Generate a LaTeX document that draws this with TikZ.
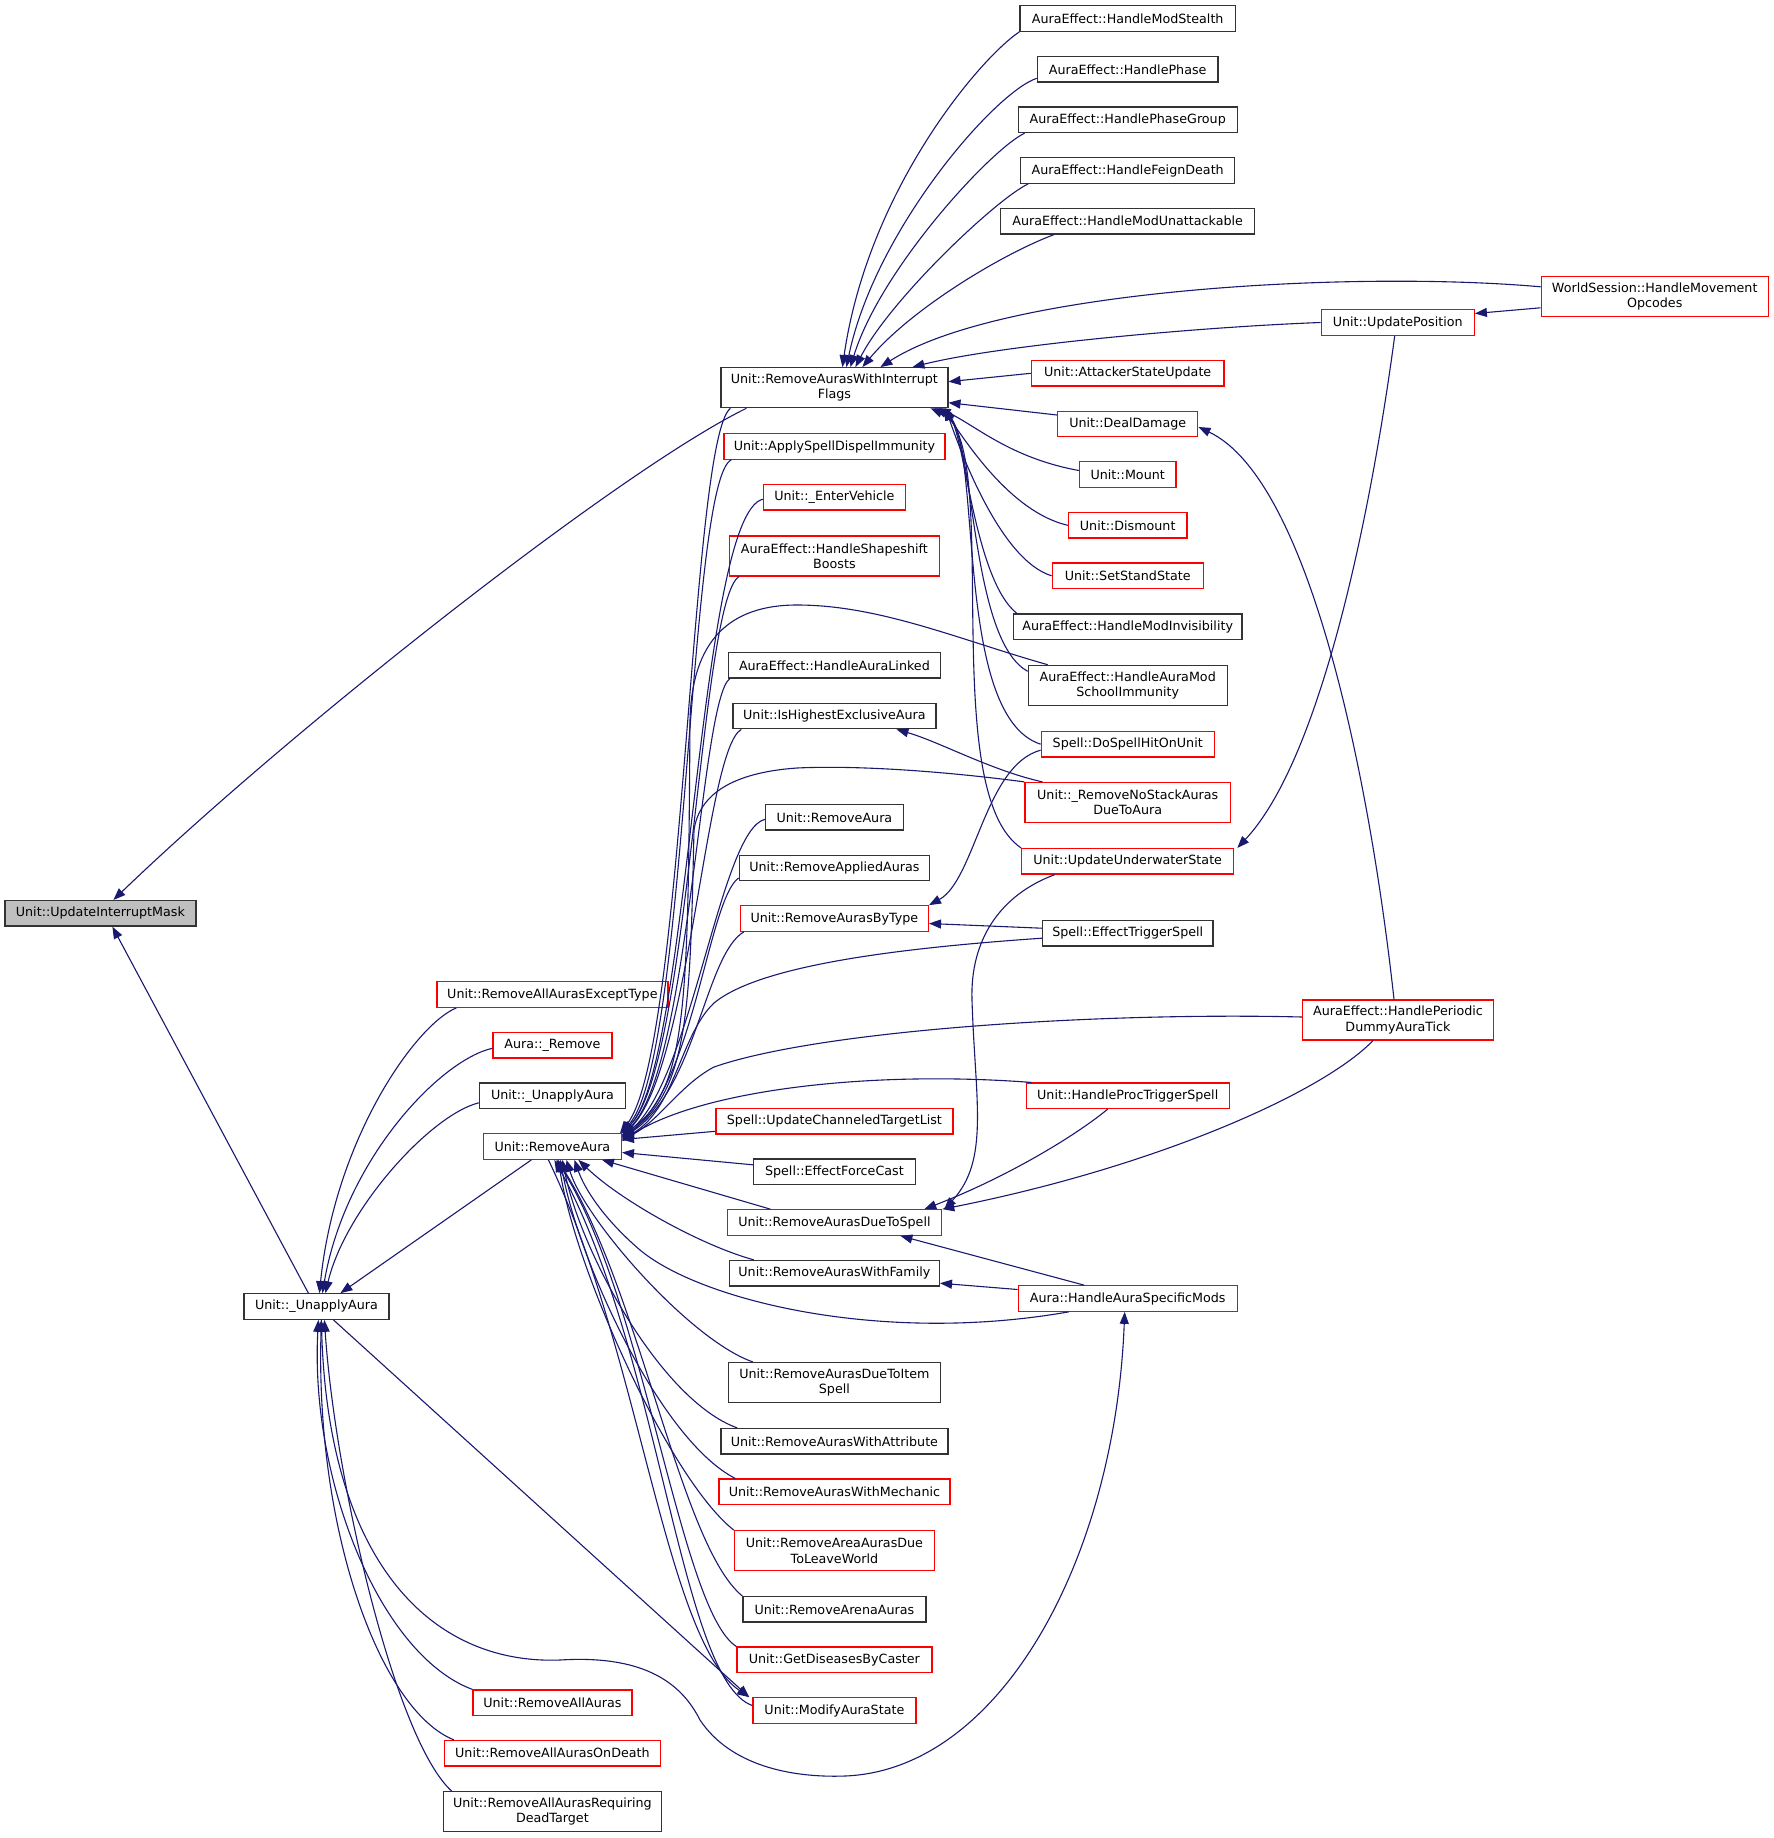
\documentclass[tikz,border=0pt]{standalone}
\usepackage{fontspec}
\setmainfont{DejaVu Sans}
\usepackage{xcolor}
\usepackage{tikz}
\usetikzlibrary{arrows.meta}
\definecolor{edgeblue}{HTML}{191970}
\definecolor{rootgray}{HTML}{BFBFBF}
\newcommand{\fnfont}{\fontsize{12.7}{15.3}\selectfont}
\tikzset{
    fnbox/.style={rectangle, draw=black!80, line width=1.2pt, fill=white, align=center, inner xsep=6pt, inner ysep=3pt, minimum height=25.5pt, font=\fnfont},
    truncbox/.style={fnbox, draw=red},
    rootbox/.style={fnbox, fill=rootgray},
    twoline/.style={minimum height=40pt},
    call/.style={draw=edgeblue, line width=1.1pt, ->, >={Triangle[length=12pt,width=9pt]}}
}

\begin{document}
\begin{tikzpicture}[x=1pt, y=-1pt]

    \fill[white] (0,0) rectangle (1773,1838);
    \useasboundingbox (0,0) rectangle (1773,1838);

    \node (root)       [rootbox, minimum width=191pt] at (100.4,913.3) {Unit::UpdateInterruptMask};
    \node (unapplyB)   [fnbox, minimum width=145pt] at (316.4,1306.5) {Unit::\_UnapplyAura};

    \node (allExcept)  [truncbox, minimum width=231pt] at (552.4,994.5) {Unit::RemoveAllAurasExceptType};
    \node (auraRemove) [truncbox, minimum width=119pt] at (552.4,1045.3) {Aura::\_Remove};
    \node (unapplyA)   [fnbox, minimum width=146pt] at (552.4,1095.8) {Unit::\_UnapplyAura};
    \node (removeAura) [truncbox, minimum width=138pt] at (552.4,1146.5) {Unit::RemoveAura};
    \node (allAuras)   [truncbox, minimum width=159pt] at (552.4,1702.7) {Unit::RemoveAllAuras};
    \node (allDeath)   [truncbox, minimum width=216pt] at (552.4,1753.2) {Unit::RemoveAllAurasOnDeath};
    \node (allDead)    [fnbox, twoline, minimum width=218pt] at (552.4,1811.8) {Unit::RemoveAllAurasRequiring\\DeadTarget};

    \node (rawif)      [fnbox, twoline, minimum width=227pt] at (834.4,387.7) {Unit::RemoveAurasWithInterrupt\\Flags};
    \node (dispel)     [truncbox, minimum width=221pt] at (834.4,446.5) {Unit::ApplySpellDispelImmunity};
    \node (vehicle)    [truncbox, minimum width=142pt] at (834.4,497.2) {Unit::\_EnterVehicle};
    \node (shapeshift) [truncbox, twoline, minimum width=209.5pt] at (834.4,556) {AuraEffect::HandleShapeshift\\Boosts};
    \node (auraLinked) [fnbox, minimum width=212pt] at (834.4,665.3) {AuraEffect::HandleAuraLinked};
    \node (highest)    [fnbox, minimum width=203pt] at (834.4,716) {Unit::IsHighestExclusiveAura};
    \node (removeAuraB)[fnbox, minimum width=137.6pt] at (834.4,817.3) {Unit::RemoveAura};
    \node (applied)    [fnbox, minimum width=190.5pt] at (834.4,868) {Unit::RemoveAppliedAuras};
    \node (byType)     [truncbox, minimum width=188pt] at (834.4,918.5) {Unit::RemoveAurasByType};
    \node (chanList)   [truncbox, minimum width=237pt] at (834.4,1121.3) {Spell::UpdateChanneledTargetList};
    \node (forceCast)  [fnbox, minimum width=162pt] at (834.4,1171.8) {Spell::EffectForceCast};
    \node (dueSpell)   [truncbox, minimum width=214.6pt] at (834.4,1222.5) {Unit::RemoveAurasDueToSpell};
    \node (family)     [fnbox, minimum width=210pt] at (834.4,1273.2) {Unit::RemoveAurasWithFamily};
    \node (dueItem)    [fnbox, twoline, minimum width=212pt] at (834.4,1382.5) {Unit::RemoveAurasDueToItem\\Spell};
    \node (attribute)  [fnbox, minimum width=227pt] at (834.4,1441.3) {Unit::RemoveAurasWithAttribute};
    \node (mechanic)   [truncbox, minimum width=231pt] at (834.4,1491.8) {Unit::RemoveAurasWithMechanic};
    \node (areaAuras)  [truncbox, twoline, minimum width=200pt] at (834.4,1550.7) {Unit::RemoveAreaAurasDue\\ToLeaveWorld};
    \node (arena)      [fnbox, minimum width=183pt] at (834.4,1609.3) {Unit::RemoveArenaAuras};
    \node (diseases)   [truncbox, minimum width=195pt] at (834.4,1659.8) {Unit::GetDiseasesByCaster};
    \node (modState)   [truncbox, minimum width=163pt] at (834.4,1710.5) {Unit::ModifyAuraState};

    \node (stealth)    [fnbox, minimum width=215.4pt] at (1127.7,18.5) {AuraEffect::HandleModStealth};
    \node (phase)      [fnbox, minimum width=180.7pt] at (1127.7,69.3) {AuraEffect::HandlePhase};
    \node (phaseGroup) [fnbox, minimum width=219pt] at (1127.7,119.8) {AuraEffect::HandlePhaseGroup};
    \node (feign)      [fnbox, minimum width=213.8pt] at (1127.7,170.5) {AuraEffect::HandleFeignDeath};
    \node (unattack)   [fnbox, minimum width=254pt] at (1127.7,221.2) {AuraEffect::HandleModUnattackable};
    \node (attacker)   [truncbox, minimum width=192.7pt] at (1127.7,373.3) {Unit::AttackerStateUpdate};
    \node (dealDamage) [truncbox, minimum width=140.3pt] at (1127.7,424) {Unit::DealDamage};
    \node (mount)      [truncbox, minimum width=96.5pt] at (1127.7,474.5) {Unit::Mount};
    \node (dismount)   [truncbox, minimum width=118.6pt] at (1127.7,525.3) {Unit::Dismount};
    \node (standState) [truncbox, minimum width=151pt] at (1127.7,575.8) {Unit::SetStandState};
    \node (invis)      [fnbox, minimum width=228.6pt] at (1127.7,626.7) {AuraEffect::HandleModInvisibility};
    \node (schoolImm)  [fnbox, twoline, minimum width=198.8pt] at (1127.7,685.3) {AuraEffect::HandleAuraMod\\SchoolImmunity};
    \node (hitUnit)    [truncbox, minimum width=173pt] at (1127.7,744.2) {Spell::DoSpellHitOnUnit};
    \node (noStack)    [truncbox, twoline, minimum width=205.4pt] at (1127.7,802.5) {Unit::\_RemoveNoStackAuras\\DueToAura};
    \node (underwater) [truncbox, minimum width=212pt] at (1127.7,861.3) {Unit::UpdateUnderwaterState};
    \node (trigger)    [fnbox, minimum width=170.7pt] at (1127.7,933.2) {Spell::EffectTriggerSpell};
    \node (procTrigger)[truncbox, minimum width=203pt] at (1127.7,1095.8) {Unit::HandleProcTriggerSpell};
    \node (specMods)   [truncbox, minimum width=219pt] at (1127.7,1298.5) {Aura::HandleAuraSpecificMods};

    \node (updatePos)  [truncbox, minimum width=153.2pt] at (1397.7,322.5) {Unit::UpdatePosition};
    \node (periodic)   [truncbox, twoline, minimum width=191pt] at (1398,1020) {AuraEffect::HandlePeriodic\\DummyAuraTick};
    \node (worldSession)[truncbox, twoline, minimum width=227pt] at (1654.7,296.8) {WorldSession::HandleMovement\\Opcodes};

    \draw[call] (stealth.south west) .. controls (980,58) and (868,190) .. ([xshift=8pt]rawif.north);
    \draw[call] ([yshift=-9pt]phase.west) .. controls (995,92) and (875,230) .. ([xshift=12pt]rawif.north);
    \draw[call] ([xshift=7pt]phaseGroup.south west) .. controls (990,150) and (880,270) .. ([xshift=16pt]rawif.north);
    \draw[call] ([xshift=8pt]feign.south west) .. controls (995,200) and (890,300) .. ([xshift=21pt]rawif.north);
    \draw[call] ([xshift=54pt]unattack.south west) .. controls (1000,255) and (910,310) .. ([xshift=28pt]rawif.north);
    \draw[call] ([yshift=10pt]worldSession.west) .. controls (1350,270) and (1000,290) .. ([xshift=46pt]rawif.north);
    \draw[call] (updatePos.west) .. controls (1200,327) and (1000,345) .. ([xshift=78pt]rawif.north);
    \draw[call] (attacker.west) -- ([yshift=6pt]rawif.east);
    \draw[call] ([yshift=9pt]dealDamage.west) -- ([yshift=-15pt]rawif.east);

    \draw[call] ([yshift=4pt]mount.west) .. controls (1010,458) and (975,425) .. ([xshift=-10pt]rawif.south east);
    \draw[call] (dismount.west) .. controls (1010,512) and (965,440) .. ([xshift=-6pt]rawif.south east);
    \draw[call] (standState.west) .. controls (1000,560) and (960,450) .. ([xshift=-3pt]rawif.south east);
    \draw[call] ([xshift=4pt]invis.north west) .. controls (975,580) and (965,440) .. ([xshift=-4pt]rawif.south east);
    \draw[call] ([yshift=14pt]schoolImm.west) .. controls (970,640) and (975,440) .. ([xshift=-8pt]rawif.south east);
    \draw[call] (hitUnit.west) .. controls (950,715) and (985,430) .. ([xshift=-14pt]rawif.south east);
    \draw[call] (underwater.north west) .. controls (935,790) and (1005,440) .. ([xshift=-18pt]rawif.south east);

    \draw[call] ([xshift=-88pt]rawif.south) .. controls (620,470) and (290,730) .. ([xshift=13pt]root.north);
    \draw[call] ([xshift=-8pt]unapplyB.north) -- ([xshift=12pt]root.south);

    \draw[call] ([xshift=-104pt]rawif.south) .. controls (690,440) and (685,1050) .. ([xshift=-2pt]removeAura.north east);
    \draw[call] ([xshift=8pt]dispel.south west) .. controls (688,480) and (688,1060) .. ([xshift=-1pt]removeAura.north east);
    \draw[call] ([yshift=-2pt]vehicle.west) .. controls (698,515) and (690,1065) .. (removeAura.north east);
    \draw[call] ([xshift=10pt]shapeshift.south west) .. controls (700,600) and (690,1065) .. (removeAura.north east);
    \draw[call] ([xshift=20pt]schoolImm.north west) .. controls (960,640) and (880,605) .. (797,605) .. controls (730,605) and (692,640) .. (690,720) .. controls (688,1000) and (688,1090) .. ([yshift=-2pt]removeAura.north east);
    \draw[call] ([xshift=2pt]auraLinked.south west) .. controls (700,700) and (690,1070) .. ([yshift=-2pt]removeAura.north east);
    \draw[call] ([xshift=9pt]highest.south west) .. controls (705,750) and (690,1070) .. ([yshift=-3pt]removeAura.north east);
    \draw[call] (noStack.north west) .. controls (950,772) and (860,765) .. (797,768) .. controls (740,772) and (700,790) .. (694,830) .. controls (690,1000) and (690,1090) .. ([yshift=-4pt]removeAura.north east);
    \draw[call] ([yshift=-2pt]removeAuraB.west) .. controls (720,830) and (692,1080) .. ([yshift=-4pt]removeAura.north east);
    \draw[call] ([yshift=-10pt]applied.west) .. controls (708,900) and (694,1085) .. ([yshift=-5pt]removeAura.north east);
    \draw[call] ([xshift=4pt]byType.south west) .. controls (705,955) and (696,1090) .. ([yshift=-5pt]removeAura.north east);
    \draw[call] ([yshift=-5pt]trigger.west) .. controls (900,948) and (760,965) .. (714,1003) .. controls (680,1035) and (675,1110) .. ([yshift=-6pt]removeAura.north east);
    \draw[call] ([yshift=3pt]periodic.west) .. controls (1100,1012) and (820,1030) .. (714,1067) .. controls (680,1085) and (660,1120) .. ([yshift=-7pt]removeAura.north east);
    \draw[call] ([xshift=6pt]procTrigger.north west) .. controls (870,1070) and (700,1090) .. ([yshift=-8pt]removeAura.north east);
    \draw[call] ([yshift=-10pt]chanList.west) -- ([yshift=7pt]removeAura.east);
    \draw[call] ([yshift=7pt]forceCast.west) -- ([yshift=-6pt]removeAura.east);

    \draw[call] ([xshift=-64pt]dueSpell.north) -- ([xshift=-20pt]removeAura.south east);
    \draw[call] ([xshift=25pt]family.north west) .. controls (700,1245) and (620,1200) .. ([xshift=26pt]removeAura.south);
    \draw[call] ([xshift=-59pt]specMods.south) .. controls (880,1345) and (700,1300) .. (640,1250) .. controls (605,1220) and (585,1190) .. ([xshift=22pt]removeAura.south);
    \draw[call] ([xshift=25pt]dueItem.north west) .. controls (690,1340) and (585,1220) .. ([xshift=14pt]removeAura.south);
    \draw[call] ([xshift=17pt]attribute.north west) .. controls (660,1400) and (580,1250) .. ([xshift=10pt]removeAura.south);
    \draw[call] ([xshift=17pt]mechanic.north west) .. controls (660,1440) and (578,1260) .. ([xshift=8pt]removeAura.south);
    \draw[call] (areaAuras.north west) .. controls (670,1480) and (575,1270) .. ([xshift=6pt]removeAura.south);
    \draw[call] (arena.north west) .. controls (680,1545) and (640,1290) .. ([xshift=5pt]removeAura.south);
    \draw[call] (diseases.north west) .. controls (680,1610) and (645,1300) .. ([xshift=4pt]removeAura.south);
    \draw[call] ([yshift=5pt]modState.west) .. controls (680,1680) and (660,1350) .. ([xshift=2pt]removeAura.south);
    \draw[call] ([xshift=-4pt]removeAura.south) .. controls (640,1350) and (665,1640) .. ([xshift=-3pt]modState.north west);

    \draw[call] ([xshift=-21pt]removeAura.south) -- ([xshift=24pt]unapplyB.north);
    \draw[call] ([xshift=-96pt]allExcept.south) .. controls (415,1025) and (335,1140) .. ([xshift=3pt]unapplyB.north);
    \draw[call] ([yshift=-3pt]auraRemove.west) .. controls (440,1060) and (345,1160) .. ([xshift=6pt]unapplyB.north);
    \draw[call] ([yshift=-7pt]unapplyA.west) .. controls (430,1115) and (345,1210) .. ([xshift=9pt]unapplyB.north);
    \draw[call] (allAuras.north west) .. controls (380,1655) and (310,1480) .. ([xshift=2pt]unapplyB.south);
    \draw[call] ([xshift=10pt]allDeath.north west) .. controls (380,1710) and (315,1530) .. ([xshift=5pt]unapplyB.south);
    \draw[call] ([xshift=9pt]allDead.north west) .. controls (395,1740) and (335,1480) .. ([xshift=8pt]unapplyB.south);
    \draw[call] ([xshift=5pt]unapplyB.south) .. controls (325,1560) and (430,1665) .. (560,1660) .. controls (640,1655) and (680,1680) .. (700,1720) .. controls (730,1765) and (790,1778) .. (845,1776) .. controls (1000,1770) and (1115,1560) .. ([xshift=-3pt]specMods.south);
    \draw[call] ([xshift=17pt]unapplyB.south) -- ([xshift=-3pt]modState.north west);

    \draw[call] ([yshift=-6pt]hitUnit.west) .. controls (985,765) and (975,880) .. (byType.north east);
    \draw[call] ([yshift=5pt]trigger.west) -- ([yshift=-5pt]byType.east);
    \draw[call] ([xshift=18pt]noStack.north west) .. controls (990,770) and (940,742) .. ([xshift=62pt]highest.south);
    \draw[call] ([xshift=-4pt]periodic.north) .. controls (1370,780) and (1310,480) .. ([yshift=-3pt]dealDamage.east);
    \draw[call] ([yshift=-11pt]worldSession.west) -- ([yshift=9pt]updatePos.east);
    \draw[call] ([xshift=-3pt]updatePos.south) .. controls (1370,520) and (1320,760) .. ([xshift=3pt]underwater.north east);
    \draw[call] ([xshift=-73pt]underwater.south) .. controls (1000,895) and (970,940) .. (972,1000) .. controls (975,1100) and (990,1160) .. ([xshift=2pt]dueSpell.north east);
    \draw[call] ([xshift=-20pt]procTrigger.south) .. controls (1070,1140) and (1000,1180) .. ([xshift=-18pt]dueSpell.north east);
    \draw[call] ([xshift=-25pt]periodic.south) .. controls (1320,1095) and (1150,1168) .. (dueSpell.north east);
    \draw[call] ([xshift=-43.5pt]specMods.north) -- ([xshift=66pt]dueSpell.south);
    \draw[call] ([yshift=9pt]specMods.west) -- ([yshift=-10pt]family.east);

\end{tikzpicture}
\end{document}
